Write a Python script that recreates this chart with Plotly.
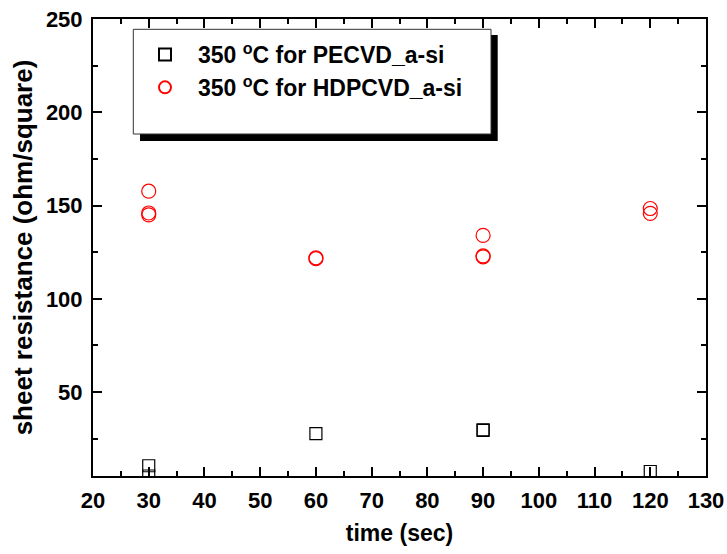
import plotly.graph_objects as go

# Sheet resistance measurements after 350 °C anneal
pecvd_time = [30, 30, 60, 90, 90, 120]
pecvd_rs = [10.5, 5.0, 27.7, 29.8, 29.5, 7.4]

hdp_time = [30, 30, 30, 60, 60, 90, 90, 90, 120, 120]
hdp_rs = [157.7, 146.0, 145.0, 122.0, 121.5, 134.0, 123.0, 122.5, 148.4, 145.8]

pecvd_label = "350 <sup>o</sup>C for PECVD_a-si"
hdp_label = "350 <sup>o</sup>C for HDPCVD_a-si"

W, H = 727, 554
M = dict(l=93, r=21, t=19, b=78)
PW = W - M["l"] - M["r"]
PH = H - M["t"] - M["b"]


def px(x):
    return (x - M["l"]) / PW


def py(y):
    return (H - M["b"] - y) / PH


FONT = "Arial, 'Liberation Sans', sans-serif"

fig = go.Figure()
fig.add_trace(go.Scatter(
    x=pecvd_time, y=pecvd_rs, mode="markers", name=pecvd_label,
    marker=dict(symbol="square-open", size=12, color="black", line=dict(width=1.2)),
))
fig.add_trace(go.Scatter(
    x=hdp_time, y=hdp_rs, mode="markers", name=hdp_label,
    marker=dict(symbol="circle-open", size=14, color="red", line=dict(width=1.2)),
))

# legend frame with drop shadow
fig.add_shape(type="rect", xref="paper", yref="paper",
              x0=px(140), x1=px(497.7), y0=py(141), y1=py(35),
              fillcolor="black", line=dict(width=0), layer="above")
fig.add_shape(type="rect", xref="paper", yref="paper",
              x0=px(133.3), x1=px(491), y0=py(134), y1=py(29.3),
              fillcolor="white", line=dict(color="#333333", width=1), layer="above")

axis_common = dict(
    showline=True, linecolor="black", linewidth=2, mirror="ticks",
    ticks="inside", ticklen=9, tickwidth=1.5, tickcolor="black",
    showgrid=False, zeroline=False, automargin=False,
    tickfont=dict(family=FONT, size=22, color="black", weight="bold"),
)

fig.update_xaxes(
    range=[20, 130], dtick=10, tick0=0,
    minor=dict(ticks="inside", dtick=5, ticklen=5, tickwidth=1.5, tickcolor="black"),
    title=dict(text="time (sec)", standoff=12,
               font=dict(family=FONT, size=23, color="black", weight="bold")),
    ticklabelstandoff=4,
    **axis_common,
)
fig.update_yaxes(
    range=[5, 250], dtick=50, tick0=0,
    minor=dict(ticks="inside", dtick=25, ticklen=5, tickwidth=1.5, tickcolor="black"),
    title=dict(text="sheet resistance (ohm/square)", standoff=6,
               font=dict(family=FONT, size=26, color="black", weight="bold")),
    ticklabelstandoff=4,
    **axis_common,
)

fig.update_layout(
    width=W, height=H, margin=M,
    paper_bgcolor="white", plot_bgcolor="white",
    showlegend=True,
    legend=dict(
        x=px(132), y=py(33), xanchor="left", yanchor="top",
        bgcolor="rgba(0,0,0,0)", borderwidth=0,
        itemwidth=56, itemsizing="constant",
        font=dict(family=FONT, size=23, color="black", weight="bold"),
    ),
)

fig.write_html("out.html")
